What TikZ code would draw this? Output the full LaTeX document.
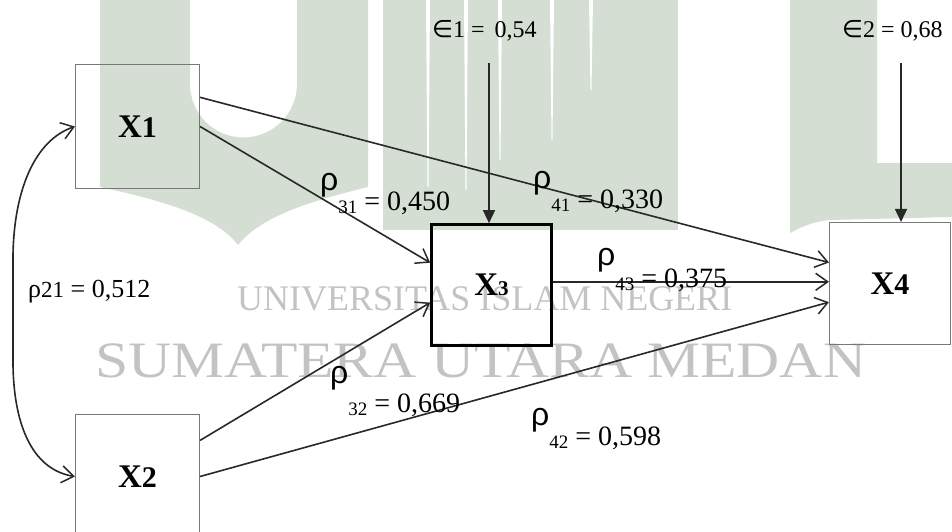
\documentclass[tikz,border=0pt]{standalone}
\usepackage{fontspec}
\usepackage{graphicx}
\setmainfont{Liberation Serif}
\newfontfamily\rhofont{Liberation Sans}
\newfontfamily\elemfont{DejaVu Sans}
\usetikzlibrary{arrows.meta}

\definecolor{uingreen}{RGB}{212,222,211}
\definecolor{markgray}{RGB}{195,195,195}
\definecolor{boxgray}{RGB}{120,120,120}
\definecolor{linegray}{RGB}{40,40,40}

% path coefficient: big rho, lowered index, value
\newcommand{\pcoef}[3][20pt]{\raisebox{#1}{\rhofont\fontsize{32}{32}\selectfont ρ}\raisebox{-3pt}{\fontsize{19}{19}\selectfont #2}~= #3}
\newcommand{\varlabel}[2]{X{\fontsize{#2}{#2}\selectfont #1}}

\begin{document}
\begin{tikzpicture}[x=1pt, y=-1pt,
  varbox/.style={draw=boxgray, line width=1.1pt, minimum width=124pt, minimum height=124pt, inner sep=0pt, font=\fontsize{33}{33}\selectfont\bfseries},
  link/.style={draw=linegray, line width=1.6pt, -{Straight Barb[length=12pt, width=17pt, line width=1.5pt]}},
  bilink/.style={link, {Straight Barb[length=12pt, width=17pt, line width=1.5pt]}-{Straight Barb[length=12pt, width=17pt, line width=1.5pt]}},
  shock/.style={draw=linegray, line width=1.6pt, -{Triangle[length=13pt, width=12pt]}},
  coeflabel/.style={anchor=base west, inner sep=0pt, font=\fontsize{28}{28}\selectfont},
  errlabel/.style={anchor=base west, inner sep=0pt, font=\fontsize{24}{24}\selectfont},
  marktext/.style={anchor=base west, inner sep=0pt, text=markgray}]
  \useasboundingbox (0,0) rectangle (952,531);

  % Watermark shapes
  \fill[uingreen] (100,0) -- (100,187) .. controls (160,200) and (215,215) .. (238,245)
    .. controls (262,215) and (315,200) .. (368,187) -- (368,0) -- (297,0) -- (297,84)
    arc[start angle=0, end angle=-180, radius=53.5pt] -- (190,0) -- cycle;
  \fill[uingreen] (383,0) rectangle (678,230);
  \foreach \sx/\sy in {428/187, 466/190, 500/160, 552/140, 591/90}
    \fill[white] (\sx-2,0) -- (\sx+2,0) -- (\sx+0.5,\sy) -- (\sx-0.5,\sy) -- cycle;
  \fill[uingreen] (790,0) -- (877,0) -- (877,163) -- (952,163) -- (952,217) -- (830,220)
    .. controls (810,222) and (800,228) .. (790,233) -- cycle;

  % Watermark text
  \node[marktext, font=\fontsize{36}{36}\selectfont] (wm1) at (237,310) {UNIVERSITAS ISLAM NEGERI};
  \node[marktext, font=\fontsize{51}{51}\selectfont] (wm2) at (95,377) {\scalebox{1.17}[1]{SUMATERA UTARA MEDAN}};

  % Variables
  \node[varbox] (X1) at (137.5,126.5) {\varlabel{1}{30}};
  \node[varbox] (X2) at (137.5,476.5) {\varlabel{2}{30}};
  \node[varbox, draw=black, line width=2.7pt, minimum width=120pt, minimum height=121pt] (X3) at (491.5,285) {\varlabel{3}{21}};
  \node[varbox, minimum width=121pt, minimum height=122pt] (X4) at (890,283.5) {\varlabel{4}{30}};

  % Paths
  \draw[link] (X1.25) -- (X4.161);
  \draw[link] (X1.east) -- (X3.160);
  \draw[link] (X2.30) -- (X3.196);
  \draw[link] (X2.east) -- (X4.197);
  \draw[link] (X3.3) -- (X3.3 -| X4.west);
  \draw[bilink] (X1.west) .. controls (35,140) and (14,190) .. (13,255) -- (13,365)
    .. controls (14,430) and (35,470) .. (X2.west);

  % Residuals
  \coordinate (e1src) at (489,63);
  \coordinate (e2src) at (901,63);
  \draw[shock] (e1src) -- (e1src |- X3.north);
  \draw[shock] (e2src) -- (e2src |- X4.north);
  \node[errlabel] (e1) at (432,37) {{\elemfont ∈}1 =\hspace{10pt}0,54};
  \node[errlabel] (e2) at (842,37) {{\elemfont ∈}2 = 0,68};

  % Labels
  \node[coeflabel] (r31) at (320,210) {\pcoef{31}{0,450}};
  \node[coeflabel] (r41) at (533,208) {\pcoef{41}{0,330}};
  \node[coeflabel] (r43) at (597,287) {\pcoef[22pt]{43}{0,375}};
  \node[coeflabel] (r32) at (330,412) {\pcoef[29pt]{32}{0,669}};
  \node[coeflabel] (r42) at (531,445) {\pcoef{42}{0,598}};
  \node[coeflabel, font=\fontsize{26}{26}\selectfont] (r21) at (28,297) {ρ{\fontsize{23}{23}\selectfont 21} = 0,512};
\end{tikzpicture}
\end{document}
